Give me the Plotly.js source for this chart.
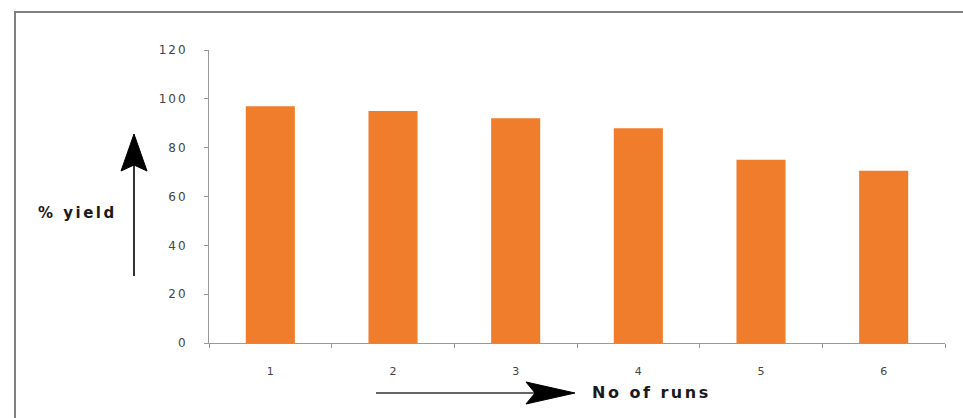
<!DOCTYPE html>
<html>
<head>
<meta charset="utf-8">
<script src="https://cdn.plot.ly/plotly-3.0.1.min.js"></script>
<style>
  html, body { margin: 0; padding: 0; background: #fff; }
  #chart { width: 963px; height: 418px; }
  .ytick text { letter-spacing: 2px; }
  .annotation-text { letter-spacing: 2.5px; }
</style>
</head>
<body>
<div id="chart"></div>
<script>
// ---- data ----
const runs = ['1', '2', '3', '4', '5', '6'];
const yieldPct = [97, 95, 92, 88, 75, 70.5];
const yTickVals = [0, 20, 40, 60, 80, 100, 120];
const xTitle = 'No of runs';
const yTitle = '% yield';

// ---- layout helpers (pixel -> paper) for decorations ----
const W = 963, H = 418;
const M = { l: 209, r: 18, t: 50, b: 75 };
const PW = W - M.l - M.r, PH = H - M.t - M.b;
const px = x => (x - M.l) / PW;
const py = y => (H - M.b - y) / PH;

const trace = {
  type: 'bar',
  x: runs,
  y: yieldPct,
  width: 0.4,
  marker: { color: '#ef7d2b', line: { width: 0 } },
  hoverinfo: 'x+y'
};

const shapes = [
  // outer frame
  { type: 'rect', xref: 'paper', yref: 'paper',
    x0: px(15), y0: py(12), x1: px(975), y1: py(430),
    line: { color: '#808080', width: 2 }, fillcolor: 'rgba(0,0,0,0)', layer: 'below' },
  // vertical arrow shaft
  { type: 'line', xref: 'paper', yref: 'paper',
    x0: px(134), y0: py(276), x1: px(134), y1: py(165),
    line: { color: '#333', width: 2 } },
  // vertical arrow head
  { type: 'path', xref: 'paper', yref: 'paper',
    path: `M ${px(134)} ${py(134)} L ${px(147)} ${py(171)} L ${px(134)} ${py(165)} L ${px(121)} ${py(171)} Z`,
    fillcolor: '#000', line: { color: '#000', width: 1 } },
  // horizontal arrow shaft
  { type: 'line', xref: 'paper', yref: 'paper',
    x0: px(376), y0: py(393), x1: px(535), y1: py(393),
    line: { color: '#333', width: 1.5 } },
  // horizontal arrow head
  { type: 'path', xref: 'paper', yref: 'paper',
    path: `M ${px(575)} ${py(393)} L ${px(526)} ${py(382)} L ${px(535)} ${py(393)} L ${px(526)} ${py(404)} Z`,
    fillcolor: '#000', line: { color: '#000', width: 1 } }
];

const annotations = [
  { xref: 'paper', yref: 'paper', x: px(36), y: py(213), xanchor: 'left', yanchor: 'middle',
    text: '<b>' + yTitle + '</b>', showarrow: false,
    font: { family: 'DejaVu Sans, sans-serif', size: 15, color: '#1a1a1a' } },
  { xref: 'paper', yref: 'paper', x: px(590), y: py(392), xanchor: 'left', yanchor: 'middle',
    text: '<b>' + xTitle + '</b>', showarrow: false,
    font: { family: 'DejaVu Sans, sans-serif', size: 16, color: '#1a1a1a' } }
];

const layout = {
  width: W, height: H,
  margin: M,
  paper_bgcolor: '#fff', plot_bgcolor: '#fff',
  showlegend: false,
  bargap: 0.6,
  xaxis: {
    type: 'category',
    showgrid: false, zeroline: false,
    showline: true, linecolor: '#999', linewidth: 1,
    ticks: 'outside', tickson: 'boundaries', ticklen: 4, tickcolor: '#999',
    ticklabelstandoff: 18,
    tickfont: { family: 'DejaVu Sans, sans-serif', size: 11, color: '#444' },
    fixedrange: true
  },
  yaxis: {
    range: [0, 120],
    tickvals: yTickVals,
    showgrid: false, zeroline: false,
    showline: true, linecolor: '#999', linewidth: 1,
    ticks: 'outside', ticklen: 4, tickcolor: '#999',
    ticklabelstandoff: 14,
    tickfont: { family: 'DejaVu Sans, sans-serif', size: 12, color: '#444' },
    fixedrange: true
  },
  shapes: shapes,
  annotations: annotations
};

Plotly.newPlot('chart', [trace], layout, { displayModeBar: false, staticPlot: true });
</script>
</body>
</html>
